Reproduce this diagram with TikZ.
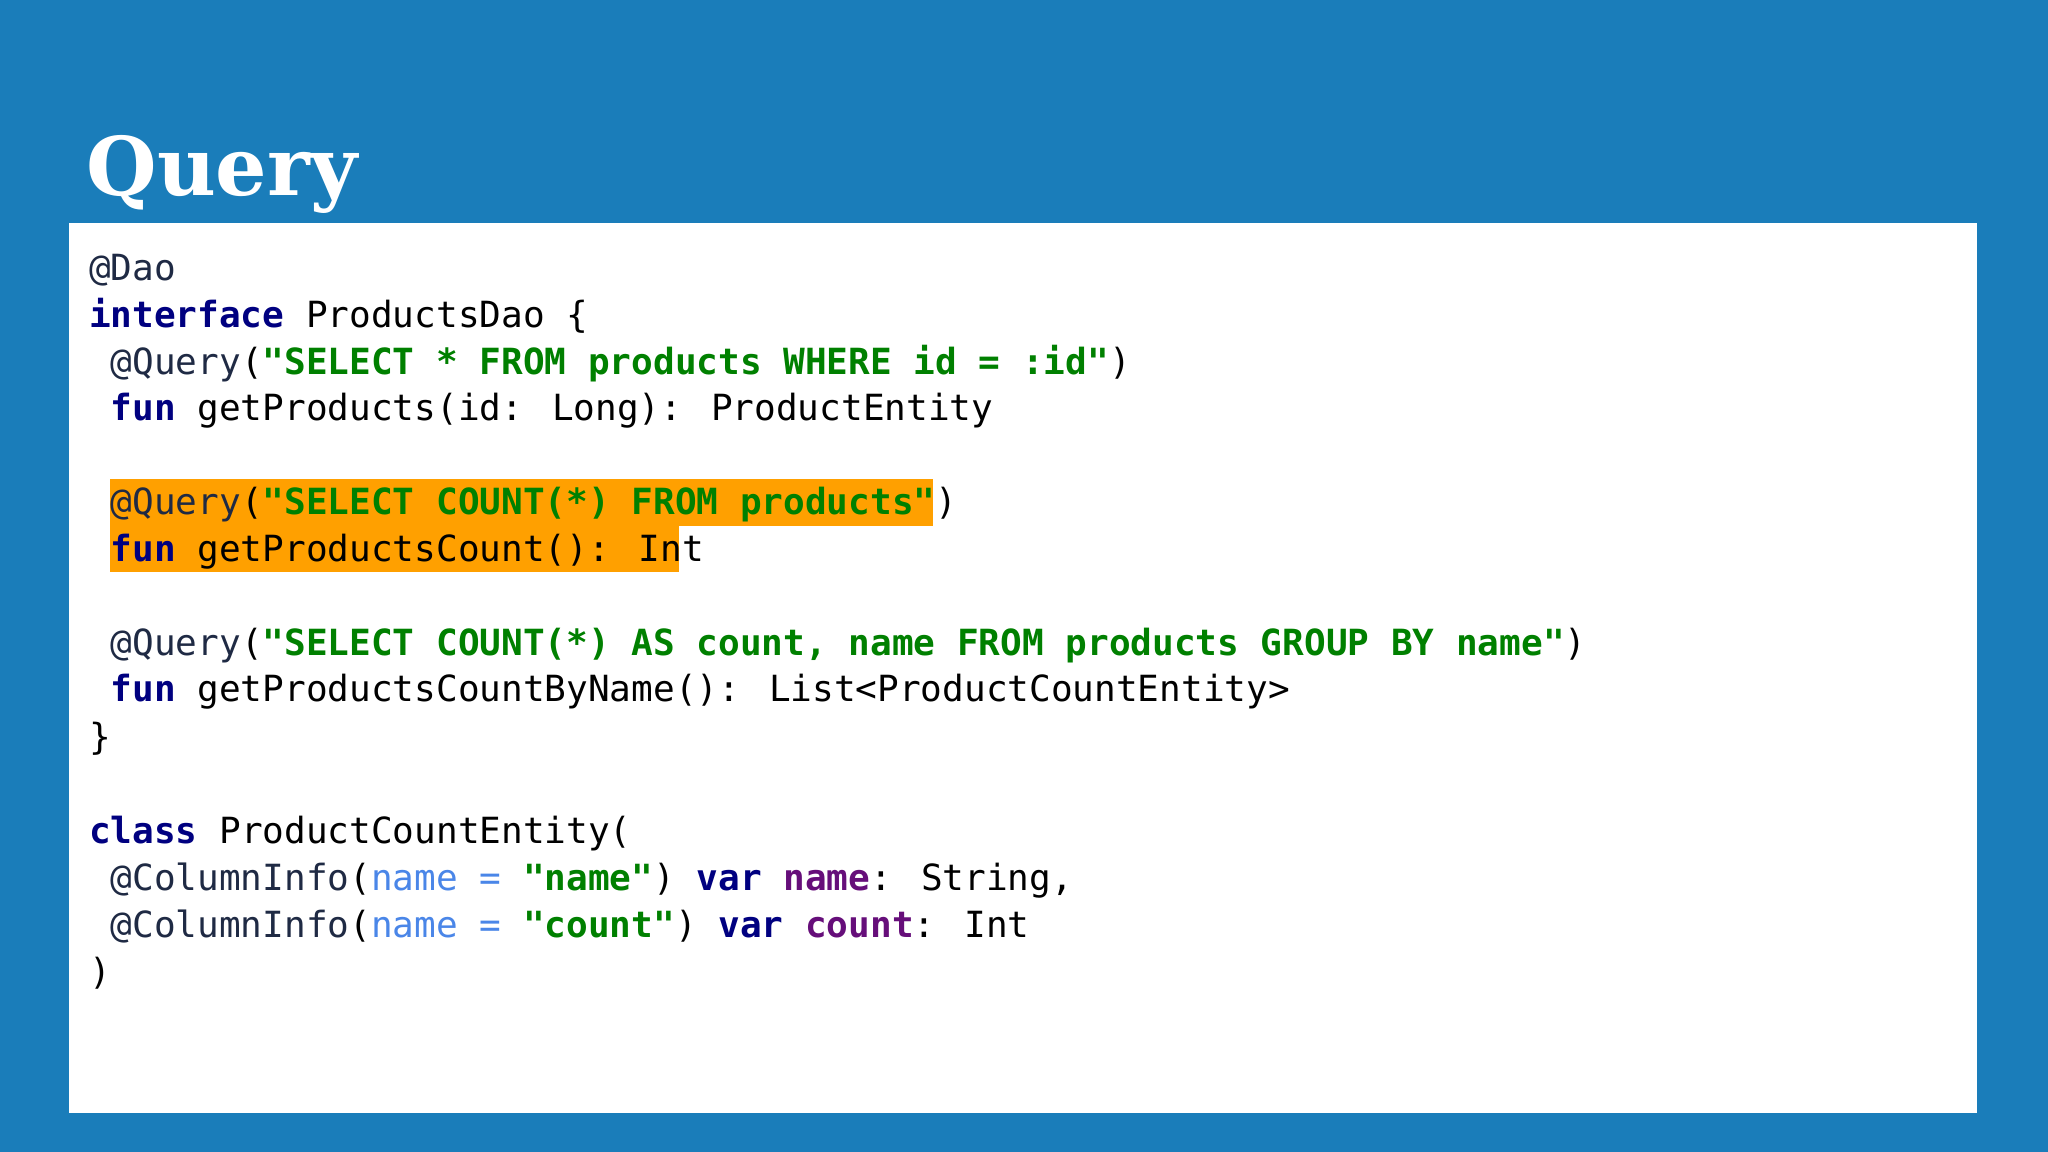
\documentclass[tikz,border=0pt]{standalone}
\usepackage{fontspec}
\newfontfamily\codefont{DejaVu Sans Mono}
\newfontfamily\titlefont{DejaVu Serif}
\definecolor{bg}{HTML}{1A7DBA}
\definecolor{kw}{HTML}{000080}
\definecolor{str}{HTML}{008000}
\definecolor{ann}{HTML}{1F2A44}
\definecolor{prm}{HTML}{4A86E8}
\definecolor{prop}{HTML}{660E7A}
\definecolor{hl}{HTML}{FFA000}
\newcommand{\cK}[1]{\textcolor{kw}{\bfseries #1}}
\newcommand{\cS}[1]{\textcolor{str}{\bfseries #1}}
\newcommand{\cP}[1]{\textcolor{prm}{#1}}
\newcommand{\cV}[1]{\textcolor{prop}{\bfseries #1}}
\begin{document}
\begin{tikzpicture}[x=1pt,y=-1pt,
  code/.style={anchor=base west,inner sep=0pt,font=\codefont\fontsize{27.6}{30}\selectfont,text=black}]
\useasboundingbox (0,0) rectangle (1568,882);
\fill[bg] (0,0) rectangle (1568,882);
\fill[white] (53,171) rectangle (1514,852);
\node[anchor=base west,inner sep=0pt,text=white,font=\titlefont\bfseries\fontsize{62}{70}\selectfont] (title) at (66,150) {Query};
\fill[hl] (84,367) rectangle (714,403);
\fill[hl] (84,403) rectangle (520,438);
\node[code] (l1) at (68,215) {\textcolor{ann}{@Dao}};
\node[code] (l2) at (68,251) {\cK{interface} ProductsDao \{};
\node[code] (l3) at (68,287) {\ \textcolor{ann}{@Query}(\cS{"SELECT * FROM products WHERE id = :id"})};
\node[code] (l4) at (68,322) {\ \cK{fun} getProducts(id: Long): ProductEntity};
\node[code] (l5) at (68,394) {\ \textcolor{ann}{@Query}(\cS{"SELECT COUNT(*) FROM products"})};
\node[code] (l6) at (68,430) {\ \cK{fun} getProductsCount(): Int};
\node[code] (l7) at (68,502) {\ \textcolor{ann}{@Query}(\cS{"SELECT COUNT(*) AS count, name FROM products GROUP BY name"})};
\node[code] (l8) at (68,537) {\ \cK{fun} getProductsCountByName(): List<ProductCountEntity>};
\node[code] (l9) at (68,574) {\}};
\node[code] (l10) at (68,646) {\cK{class} ProductCountEntity(};
\node[code] (l11) at (68,682) {\ \textcolor{ann}{@ColumnInfo}(\cP{name = }\cS{"name"}) \cK{var} \cV{name}: String,};
\node[code] (l12) at (68,718) {\ \textcolor{ann}{@ColumnInfo}(\cP{name = }\cS{"count"}) \cK{var} \cV{count}: Int};
\node[code] (l13) at (68,754) {)};
\end{tikzpicture}
\end{document}
